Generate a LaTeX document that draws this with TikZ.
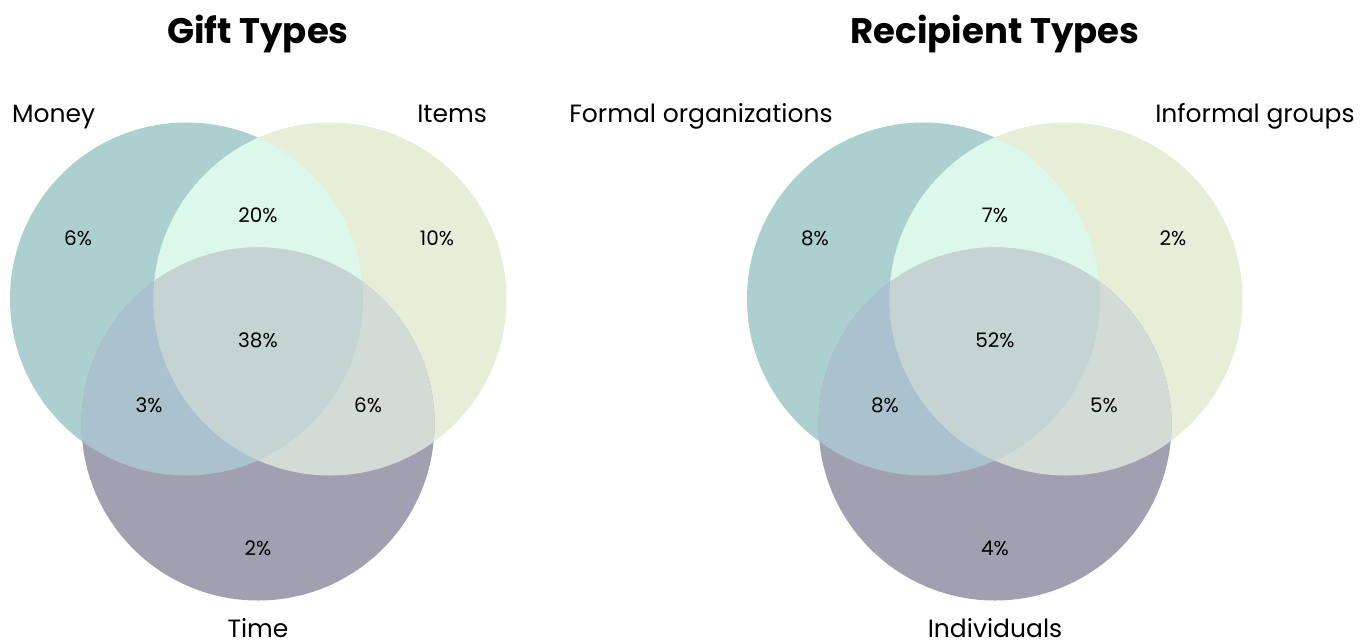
\documentclass[tikz,border=0pt]{standalone}
\usepackage{fontspec}
\setmainfont{Poppins}
\definecolor{cM}{HTML}{ACCFD0}
\definecolor{cI}{HTML}{E6EED8}
\definecolor{cT}{HTML}{A0A0B0}
\definecolor{cMI}{HTML}{DCF8EA}
\definecolor{cMT}{HTML}{A9C2CD}
\definecolor{cIT}{HTML}{D3DBD7}
\definecolor{cMIT}{HTML}{C3D4D3}
\tikzset{
  title/.style={font=\fontsize{35.5}{38}\selectfont\bfseries, anchor=base, inner sep=0pt},
  setlabel/.style={font=\fontsize{25}{28}\selectfont, anchor=base, inner sep=0pt},
  pct/.style={font=\fontsize{20}{22}\selectfont, anchor=base, inner sep=0pt},
}
\newcommand{\venn}[4]{%
  \fill[cM] (#1,299) circle (#4);
  \fill[cI] (#2,299) circle (#4);
  \fill[cT] (#3,424) circle (#4);
  \begin{scope}\clip (#1,299) circle (#4); \fill[cMI] (#2,299) circle (#4); \end{scope}
  \begin{scope}\clip (#1,299) circle (#4); \fill[cMT] (#3,424) circle (#4); \end{scope}
  \begin{scope}\clip (#2,299) circle (#4); \fill[cIT] (#3,424) circle (#4); \end{scope}
  \begin{scope}\clip (#1,299) circle (#4); \clip (#2,299) circle (#4); \fill[cMIT] (#3,424) circle (#4); \end{scope}
}
\begin{document}
\begin{tikzpicture}[x=1pt,y=-1pt]
\useasboundingbox (0,0) rectangle (1370,643);
% Left diagram
\venn{186.5}{330}{258}{176.5}
\node[title] (t1) at (258,43) {Gift Types};
\node[setlabel, anchor=base west] (money) at (12,122) {Money};
\node[setlabel, anchor=base east] (items) at (487,122) {Items};
\node[setlabel, text depth=0pt] (time) at (258,637) {Time};
\node[pct] (a1) at (78,245) {6\%};
\node[pct] (a2) at (258,222) {20\%};
\node[pct] (a3) at (437,245) {10\%};
\node[pct] (a4) at (258,347) {38\%};
\node[pct] (a5) at (149,412) {3\%};
\node[pct] (a6) at (368,412) {6\%};
\node[pct] (a7) at (258,555) {2\%};
% Right diagram
\venn{923.5}{1066}{995}{176.5}
\node[title] (t2) at (995,43) {Recipient Types};
\node[setlabel] (formal) at (701,122) {Formal organizations};
\node[setlabel] (informal) at (1255,122) {Informal groups};
\node[setlabel, text depth=0pt] (indiv) at (995,637) {Individuals};
\node[pct] (b1) at (815,245) {8\%};
\node[pct] (b2) at (995,222) {7\%};
\node[pct] (b3) at (1173,245) {2\%};
\node[pct] (b4) at (995,347) {52\%};
\node[pct] (b5) at (885,412) {8\%};
\node[pct] (b6) at (1104,412) {5\%};
\node[pct] (b7) at (995,555) {4\%};
\end{tikzpicture}
\end{document}
